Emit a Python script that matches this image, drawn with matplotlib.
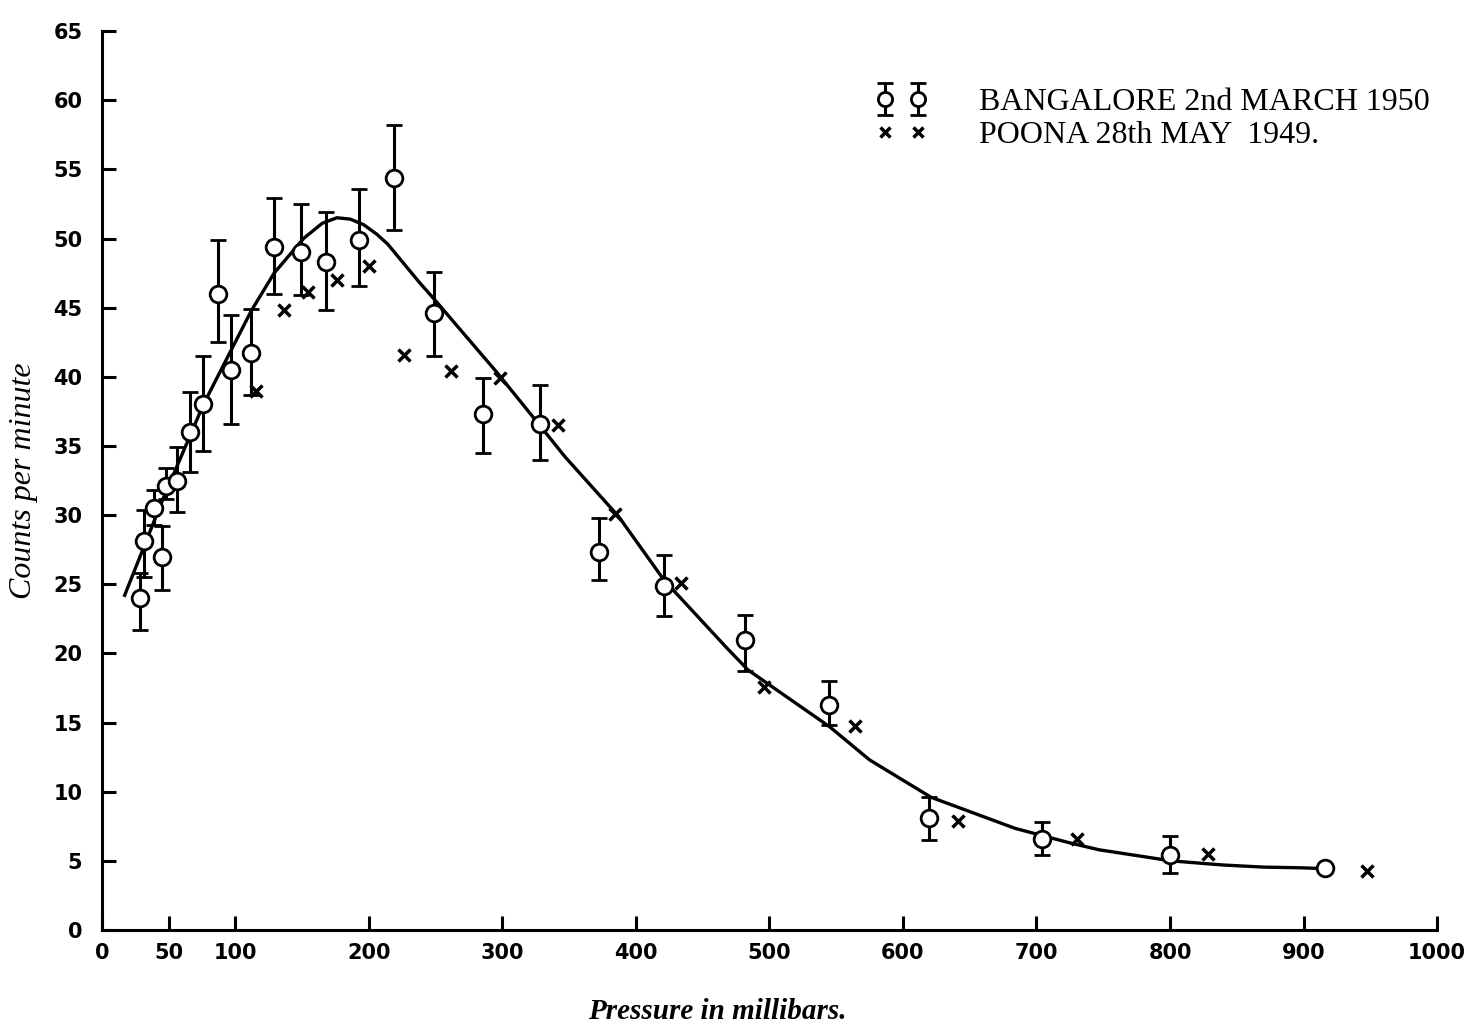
import matplotlib
matplotlib.use("Agg")
import matplotlib.pyplot as plt
import numpy as np

# Bangalore 2nd March 1950 (circles with error bars)
bang_p = [28.8, 31.2, 39.1, 45.1, 48.0, 56.5, 65.7, 75.9, 86.7, 96.4, 112, 128.8, 149, 167.7,
          192.7, 219, 248.6, 285.7, 328, 372.2, 420.7, 481.9, 544.6, 619.2, 704, 800, 915.8]
bang_c = [24.0, 28.1, 30.5, 27.0, 32.1, 32.5, 36.0, 38.0, 46.0, 40.5, 41.7, 49.4, 49.0, 48.3,
          49.9, 54.4, 44.6, 37.3, 36.6, 27.3, 24.9, 21.0, 16.3, 8.1, 6.6, 5.4, 4.5]
bang_hi = [25.8, 30.4, 31.8, 29.2, 33.4, 34.9, 38.9, 41.5, 49.9, 44.5, 44.9, 52.9, 52.5, 51.9,
           53.6, 58.2, 47.6, 39.9, 39.4, 29.8, 27.1, 22.8, 18.0, 9.6, 7.8, 6.8, 4.5]
bang_lo = [21.7, 25.5, 29.3, 24.6, 31.2, 30.2, 33.1, 34.6, 42.5, 36.6, 38.7, 46.0, 45.9, 44.8,
           46.6, 50.6, 41.5, 34.5, 34.0, 25.3, 22.7, 18.7, 14.8, 6.5, 5.4, 4.1, 4.5]

# Poona 28th May 1949 (crosses)
poona_p = [115.6, 136.3, 154.7, 175.7, 199.8, 226.6, 261.5, 298.4, 341.6, 384.4, 433.9,
           495.9, 563.9, 641.2, 730.4, 828.8, 947.6]
poona_c = [39.0, 44.8, 46.1, 47.0, 48.0, 41.6, 40.4, 39.9, 36.5, 30.1, 25.1,
           17.6, 14.75, 7.9, 6.6, 5.5, 4.3]

# Fitted curve
curve_p = [17, 45, 76, 112, 129, 151, 165, 176, 186, 196, 206, 214, 238, 249, 296, 327, 347,
           387, 421, 468, 484, 545, 575, 621, 663, 684, 725, 747, 801, 840, 870, 898, 913]
curve_c = [24.2, 31.0, 38.0, 44.8, 47.5, 50.0, 51.1, 51.5, 51.4, 51.0, 50.3, 49.6, 46.8, 45.6,
           40.3, 36.6, 34.2, 29.9, 25.3, 20.4, 18.8, 14.7, 12.3, 9.6, 8.1, 7.35, 6.3, 5.8, 5.0,
           4.7, 4.55, 4.5, 4.45]

x_ticks = [0, 50, 100, 200, 300, 400, 500, 600, 700, 800, 900, 1000]
y_ticks = list(range(0, 66, 5))

fig = plt.figure(figsize=(14.71, 10.28), dpi=100)
ax = fig.add_axes([0.0693, 0.0953, 0.9076, 0.8745])

ax.plot(curve_p, curve_c, color="black", lw=2.4, zorder=2, solid_joinstyle="round")

bc = np.array(bang_c)
yerr = [bc - np.array(bang_lo), np.array(bang_hi) - bc]
eb = ax.errorbar(bang_p, bang_c, yerr=yerr, fmt="o", mfc="white", mec="black", mew=2.0,
                 ms=12, ecolor="black", elinewidth=2.2, capsize=6, capthick=3, zorder=3,
                 label="BANGALORE 2nd MARCH 1950")
cr, = ax.plot(poona_p, poona_c, "x", color="black", ms=8, mew=2.5, zorder=3,
              label="POONA 28th MAY  1949.")

ax.set_xlim(0, 1000)
ax.set_ylim(0, 65)
ax.set_xticks(x_ticks)
ax.set_yticks(y_ticks)
ax.spines["top"].set_visible(False)
ax.spines["right"].set_visible(False)
for s in ("left", "bottom"):
    ax.spines[s].set_linewidth(2.2)
ax.tick_params(axis="both", direction="in", length=10, width=2.2, colors="black",
               labelsize=15)
ax.tick_params(axis="y", pad=14)
ax.tick_params(axis="x", pad=9)
for lab in ax.get_xticklabels() + ax.get_yticklabels():
    lab.set_fontweight("bold")

ax.set_ylabel("Counts per minute", fontsize=23, fontstyle="italic", family="Liberation Serif")
ax.yaxis.set_label_coords(-0.048, 0.5)
ax.set_xlabel("Pressure in millibars.", fontsize=21, fontstyle="italic", fontweight="bold",
              family="Liberation Serif")
ax.xaxis.set_label_coords(0.461, -0.076)

leg = ax.legend(handles=[eb, cr], loc="upper right", bbox_to_anchor=(1.016, 0.969),
                numpoints=2, frameon=False, handlelength=1.65, handletextpad=1.6,
                prop={"family": "Liberation Serif", "size": 23}, labelspacing=0.12,
                markerscale=0.85)

fig.savefig("out.png", dpi=100, facecolor="white")
